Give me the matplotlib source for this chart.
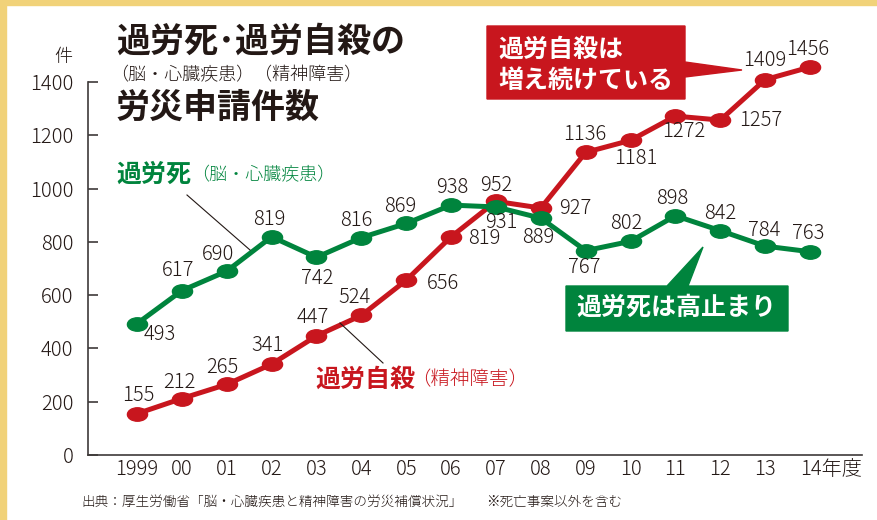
import matplotlib.pyplot as plt
from matplotlib.path import Path
from matplotlib.patches import Polygon, Rectangle
from matplotlib.transforms import Affine2D, ScaledTranslation

plt.rcParams['font.family'] = ['Noto Sans CJK JP', 'DejaVu Sans']
plt.rcParams['font.weight'] = 'light'

# data
years = ['1999', '00', '01', '02', '03', '04', '05', '06', '07', '08',
         '09', '10', '11', '12', '13', '14年度']
karoushi = [493, 617, 690, 819, 742, 816, 869, 938, 931, 889,
            767, 802, 898, 842, 784, 763]
jisatsu = [155, 212, 265, 341, 447, 524, 656, 819, 952, 927,
           1136, 1181, 1272, 1257, 1409, 1456]

# label offsets in pixels (dx, dy down)
green_off = [(23, 11), (-4, -20), (-9, -17), (-2, -17), (1, 21), (-5, -17),
             (-6, -17), (1, -18), (5, 16), (-3, 19), (-1, 17), (-4, -18),
             (-3, -17), (0, -17), (-1, -16), (-2, -18)]
red_off = [(1, -18), (-2, -16), (-4, -17), (-4, -19), (-4, -18), (-7, -18),
           (37, 3), (33, 2), (0, -16), (34, 0), (-1, -18), (5, 18),
           (8, 15), (40, 0), (0, -19), (-2, -18)]

RED = '#C8161E'
GREEN = '#00843D'
INK = '#231815'
W, H = 878, 520


def fx(x):
    return x / W


def fy(y):
    return 1 - y / H


fig = plt.figure(figsize=(8.78, 5.2), dpi=100)

# yellow frame
fig.patches.append(Rectangle((0, 0), fx(6), 1, transform=fig.transFigure,
                             color='#F1D279', zorder=0))
fig.patches.append(Rectangle((0, fy(5)), 1, fy(0) - fy(5), transform=fig.transFigure,
                             color='#F1D279', zorder=0))

ax = fig.add_axes([fx(88), fy(455), fx(862 - 88), (455 - 20) / H])
ax.patch.set_alpha(0)
x = list(range(len(years)))

ellipse = Path.unit_circle().transformed(Affine2D().scale(1.5, 1))

ax.plot(x, jisatsu, color=RED, lw=3.6, marker=ellipse, ms=14.5, zorder=3)
ax.plot(x, karoushi, color=GREEN, lw=3.6, marker=ellipse, ms=14.5, zorder=4)

for xi, v, (dx, dy) in zip(x, karoushi, green_off):
    ax.annotate(str(v), (xi, v), xytext=(dx, -dy), textcoords='offset pixels',
                ha='center', va='center', fontsize=14.5, color=INK, zorder=6)
for xi, v, (dx, dy) in zip(x, jisatsu, red_off):
    ax.annotate(str(v), (xi, v), xytext=(dx, -dy), textcoords='offset pixels',
                ha='center', va='center', fontsize=14.5, color=INK, zorder=6)

ax.set_xlim(-(137 - 88) / 44.87, (862 - 137) / 44.87)
ax.set_ylim(0, 1400 * 435 / 373)
ax.set_yticks(range(0, 1401, 200))
ax.set_xticks(x)
ax.set_xticklabels(years)
ax.tick_params(axis='y', direction='in', length=7, width=1.2, color='#3E3A39',
               labelsize=14.5, labelcolor=INK, pad=10.5)
ax.tick_params(axis='x', length=0, labelsize=14.5, labelcolor=INK, pad=3)
for s in ['top', 'right']:
    ax.spines[s].set_visible(False)
ax.spines['left'].set_bounds(0, 1400)
for s in ['left', 'bottom']:
    ax.spines[s].set_color('#3E3A39')
    ax.spines[s].set_linewidth(1.2)

# last label "14年度": left-aligned so that "14" sits under its point
last = ax.get_xticklabels()[-1]
last.set_ha('left')
last.set_transform(last.get_transform() + ScaledTranslation(-0.10, 0, fig.dpi_scale_trans))

# titles
fig.text(fx(63), fy(57), '件', ha='center', va='center', fontsize=13, color=INK)
fig.text(fx(116), fy(41), '過労死･過労自殺の', ha='left', va='center',
         fontsize=24.5, weight='bold', color=INK)
fig.text(fx(110), fy(75), '（脳・心臓疾患）（精神障害）', ha='left', va='center',
         fontsize=13, color=INK)
fig.text(fx(116), fy(107), '労災申請件数', ha='left', va='center',
         fontsize=24.5, weight='bold', color=INK)

# series names + leader lines
fig.text(fx(116), fy(175), '過労死', ha='left', va='center', fontsize=18,
         weight='bold', color=GREEN)
fig.text(fx(191), fy(175), '（脳・心臓疾患）', ha='left', va='center',
         fontsize=13, color=GREEN)
fig.add_artist(plt.Line2D([fx(187), fx(250)], [fy(195), fy(250)], lw=0.8, color=INK))

fig.text(fx(315), fy(380), '過労自殺', ha='left', va='center', fontsize=18,
         weight='bold', color=RED)
fig.text(fx(411), fy(380), '（精神障害）', ha='left', va='center',
         fontsize=14, color=RED)
fig.add_artist(plt.Line2D([fx(340), fx(383)], [fy(323), fy(363)], lw=0.8, color=INK))

# callouts
red_box = [(487, 26), (685, 26), (685, 62), (742, 70), (685, 77), (685, 99), (487, 99)]
fig.patches.append(Polygon([(fx(a), fy(b)) for a, b in red_box], closed=True,
                           transform=fig.transFigure, color=RED, zorder=5))
fig.text(fx(498), fy(50), '過労自殺は', ha='left', va='center', fontsize=18,
         weight='bold', color='white', zorder=6)
fig.text(fx(498), fy(81), '増え続けている', ha='left', va='center', fontsize=18,
         weight='bold', color='white', zorder=6)

green_box = [(566, 286), (667, 286), (703, 247), (688, 286), (788, 286), (788, 331), (566, 331)]
fig.patches.append(Polygon([(fx(a), fy(b)) for a, b in green_box], closed=True,
                           transform=fig.transFigure, color=GREEN, zorder=5))
fig.text(fx(576), fy(308), '過労死は高止まり', ha='left', va='center', fontsize=18,
         weight='bold', color='white', zorder=6)

# source
fig.text(fx(81), fy(502), '出典：厚生労働省「脳・心臓疾患と精神障害の労災補償状況」', ha='left',
         va='center', fontsize=9.8, color=INK)
fig.text(fx(486), fy(502), '※死亡事案以外を含む', ha='left', va='center',
         fontsize=9.8, color=INK)

fig.savefig('out.png', dpi=100)
